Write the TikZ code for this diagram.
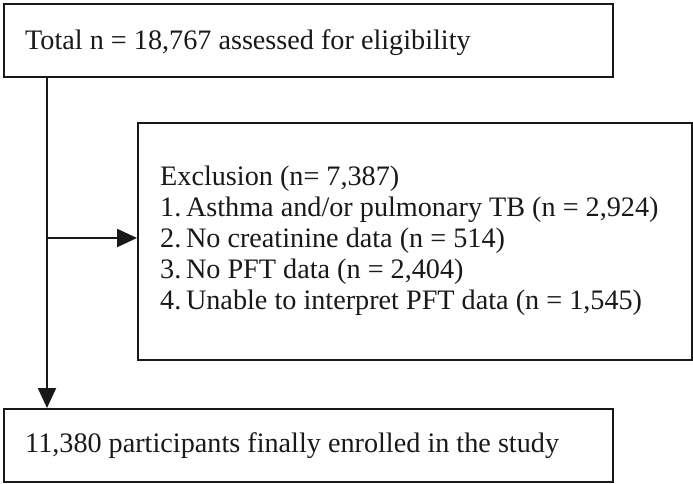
\documentclass[tikz,border=0pt]{standalone}
\usepackage{fontspec}
\setmainfont{Liberation Serif}
\usetikzlibrary{arrows.meta}
\begin{document}
\begin{tikzpicture}[x=1pt,y=-1pt,
  boxstyle/.style={draw=black!90,line width=1.6pt,rectangle,inner sep=0pt,anchor=north west},
  txt/.style={anchor=base west,inner sep=0pt,font=\fontsize{28.2}{31}\selectfont,text=black!90},
  arr/.style={draw=black!90,line width=2.3pt,-{Triangle[length=20pt,width=18pt]}}]
\useasboundingbox (0,0) rectangle (693,484);
\node[boxstyle,minimum width=609pt,minimum height=73pt] (top) at (3,3) {};
\node[boxstyle,minimum width=554pt,minimum height=237pt] (mid) at (137,122) {};
\node[boxstyle,minimum width=609pt,minimum height=73pt] (bot) at (3,408) {};
\node[txt] (t1) at (25,50) {Total n = 18,767 assessed for eligibility};
\node[txt] (m0) at (160,185) {Exclusion (n= 7,387)};
\node[txt] (m1) at (160,216) {1.\,Asthma and/or pulmonary TB (n = 2,924)};
\node[txt] (m2) at (160,247) {2.\,No creatinine data (n = 514)};
\node[txt] (m3) at (160,278) {3.\,No PFT data (n = 2,404)};
\node[txt] (m4) at (160,309) {4.\,Unable to interpret PFT data (n = 1,545)};
\node[txt] (b1) at (25,452) {11,380 participants finally enrolled in the study};
\coordinate (j) at (47,238);
\draw[arr] (top.south -| j) -- (bot.north -| j);
\draw[arr] (j) -- (j -| mid.west);
\end{tikzpicture}
\end{document}
